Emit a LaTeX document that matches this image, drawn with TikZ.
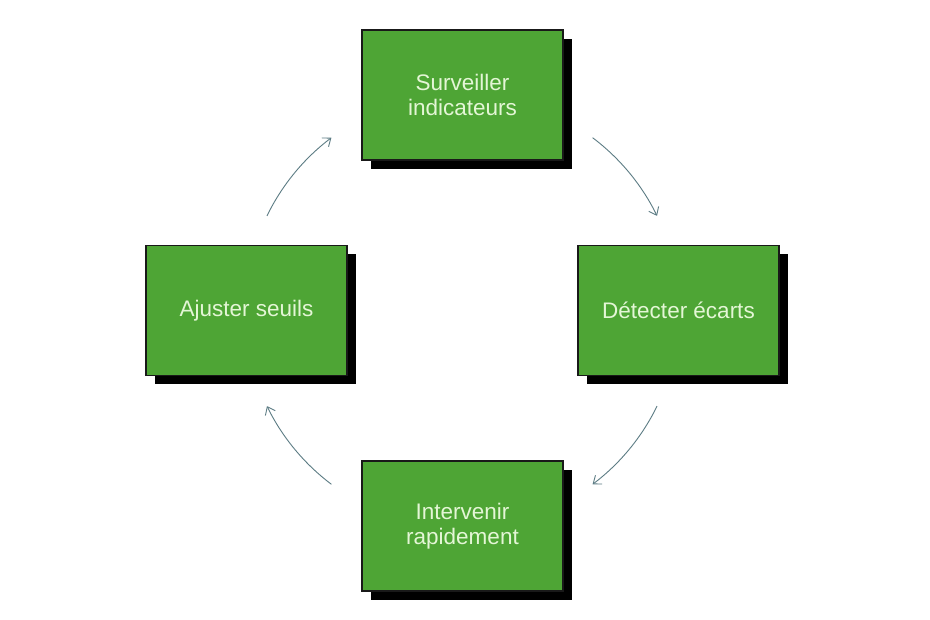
\documentclass[tikz,border=0pt]{standalone}
\usepackage{fontspec}
\setmainfont{Liberation Sans}
\usetikzlibrary{arrows.meta,shadows}
\definecolor{boxgreen}{HTML}{4EA535}
\definecolor{boxtext}{HTML}{E4F6D6}
\definecolor{arrowc}{HTML}{5C7C84}
\tikzset{
  stepbox/.style={draw=black!90, line width=1.3pt, fill=boxgreen, minimum width=201pt, minimum height=130pt,
    text=boxtext, font=\fontsize{22.5}{25}\selectfont, align=center, inner sep=0pt,
    drop shadow={shadow xshift=9pt, shadow yshift=-9pt, fill=black, opacity=1}},
  cyc/.style={draw=arrowc, line width=0.9pt, -{Straight Barb[length=7pt,width=11pt,line width=0.9pt]}}
}
\begin{document}
\begin{tikzpicture}[x=1pt,y=-1pt]
\useasboundingbox[fill=white] (0,0) rectangle (930,620);
\node[stepbox] (surv) at (462.5,95) {Surveiller\\indicateurs};
\node[stepbox] (det) at (678.5,310.5) {Détecter écarts};
\node[stepbox] (int) at (462.5,526) {Intervenir\\rapidement};
\node[stepbox] (aju) at (246.5,310.5) {Ajuster seuils};
\coordinate (c) at (462,311);
\draw[cyc] ([shift={(-53:217)}]c) coordinate (a1) arc[start angle=-53, end angle=-26, radius=217];
\draw[cyc] ([shift={(26:217)}]c) coordinate (a2) arc[start angle=26, end angle=53, radius=217];
\draw[cyc] ([shift={(127:217)}]c) coordinate (a3) arc[start angle=127, end angle=154, radius=217];
\draw[cyc] ([shift={(-154:217)}]c) coordinate (a4) arc[start angle=-154, end angle=-127, radius=217];
\end{tikzpicture}
\end{document}
